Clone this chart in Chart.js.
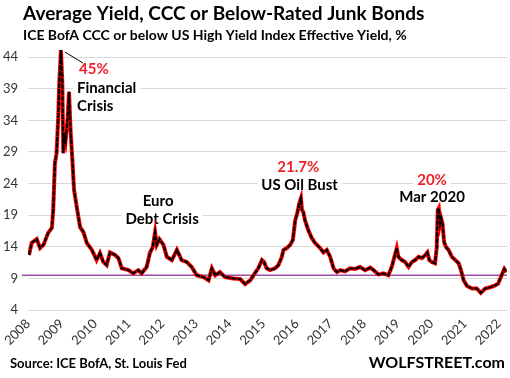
<!DOCTYPE html>
<html>
<head>
<meta charset="utf-8">
<script src="https://cdn.jsdelivr.net/npm/chart.js@4.4.0/dist/chart.umd.min.js"></script>
<style>
  html, body { margin: 0; padding: 0; background: #fff; }
  #wrap { width: 510px; height: 378px; position: relative; }
</style>
</head>
<body>
<div id="wrap"><canvas id="chart" width="510" height="378"></canvas></div>
<script>
// ICE BofA CCC & lower effective yield (decimal year, %)
const years = [
  2008.03, 2008.11, 2008.26, 2008.36, 2008.46, 2008.60, 2008.71, 2008.75, 2008.80, 2008.85,
  2008.90, 2008.93, 2008.98, 2009.02, 2009.05, 2009.08, 2009.12, 2009.18, 2009.22, 2009.27,
  2009.32, 2009.37, 2009.45, 2009.55, 2009.65, 2009.75, 2009.90, 2010.04, 2010.14, 2010.24,
  2010.34, 2010.44, 2010.59, 2010.69, 2010.79, 2010.99, 2011.13, 2011.28, 2011.38, 2011.53,
  2011.63, 2011.71, 2011.78, 2011.83, 2011.91, 2012.03, 2012.13, 2012.28, 2012.43, 2012.57,
  2012.72, 2012.87, 2013.02, 2013.22, 2013.37, 2013.47, 2013.57, 2013.71, 2013.86, 2014.11,
  2014.31, 2014.46, 2014.61, 2014.76, 2014.85, 2014.96, 2015.02, 2015.10, 2015.20, 2015.35,
  2015.45, 2015.55, 2015.60, 2015.70, 2015.80, 2015.88, 2015.95, 2016.01, 2016.07, 2016.12,
  2016.15, 2016.19, 2016.24, 2016.34, 2016.44, 2016.54, 2016.69, 2016.79, 2016.89, 2016.99,
  2017.09, 2017.19, 2017.29, 2017.43, 2017.58, 2017.73, 2017.88, 2018.03, 2018.18, 2018.28,
  2018.43, 2018.57, 2018.72, 2018.82, 2018.89, 2018.97, 2019.02, 2019.12, 2019.22, 2019.32,
  2019.42, 2019.52, 2019.62, 2019.72, 2019.82, 2019.88, 2019.94, 2020.01, 2020.11, 2020.16,
  2020.19, 2020.22, 2020.26, 2020.29, 2020.33, 2020.38, 2020.44, 2020.51, 2020.61, 2020.71,
  2020.81, 2020.88, 2020.96, 2021.06, 2021.21, 2021.35, 2021.47, 2021.60, 2021.75, 2021.90,
  2021.99, 2022.09, 2022.17, 2022.23
];
const yields = [
  12.7, 14.6, 15.2, 13.8, 14.3, 16.2, 17.0, 19.8, 27.2, 28.8,
  34.5, 39.9, 45.1, 40.0, 28.8, 32.0, 30.9, 34.5, 38.5, 32.0,
  27.7, 23.0, 20.3, 17.1, 16.3, 14.6, 13.5, 11.9, 13.0, 11.6,
  11.1, 13.1, 12.7, 12.2, 10.6, 10.3, 9.8, 10.3, 9.8, 10.8,
  13.1, 13.9, 16.3, 14.3, 15.2, 14.3, 12.4, 11.9, 13.5, 11.9,
  11.6, 10.8, 9.5, 9.2, 8.7, 10.6, 9.5, 10.0, 9.2, 9.0,
  8.9, 8.1, 8.7, 9.9, 10.6, 11.9, 11.6, 10.6, 10.3, 10.6,
  11.1, 12.4, 13.5, 13.8, 14.3, 15.1, 18.2, 19.3, 20.9, 21.7,
  19.8, 19.5, 18.2, 16.6, 15.4, 14.6, 13.8, 13.1, 13.5, 12.4,
  10.6, 10.0, 10.3, 10.1, 10.6, 10.5, 10.8, 10.3, 10.7, 10.3,
  9.6, 9.8, 9.5, 10.8, 12.2, 13.8, 12.4, 11.9, 11.6, 10.8,
  11.6, 11.9, 12.4, 12.2, 12.7, 13.1, 11.9, 11.6, 11.4, 13.9,
  19.8, 20.1, 17.7, 18.5, 17.7, 14.7, 13.9, 13.5, 12.4, 11.9,
  11.4, 10.3, 8.7, 7.8, 7.4, 7.4, 6.7, 7.4, 7.6, 7.9,
  8.2, 9.5, 10.5, 10.0
];
const yTicks = [4, 9, 14, 19, 24, 29, 34, 39, 44];
const xTicks = [2008, 2009, 2010, 2011, 2012, 2013, 2014, 2015, 2016, 2017, 2018, 2019, 2020, 2021, 2022];
const currentLevel = 9.5;

// annotation text, placed in data units
const notes = [
  { text: '45%', x: 2009.96, y: 42.15, color: '#f0202a', align: 'center' },
  { text: 'Financial', x: 2009.46, y: 39.1, color: '#000', align: 'left' },
  { text: 'Crisis', x: 2009.46, y: 36.25, color: '#000', align: 'left' },
  { text: 'Euro', x: 2011.87, y: 21.2, color: '#000', align: 'center' },
  { text: 'Debt Crisis', x: 2011.99, y: 18.4, color: '#000', align: 'center' },
  { text: '21.7%', x: 2016.04, y: 26.6, color: '#f0202a', align: 'center' },
  { text: 'US Oil Bust', x: 2016.08, y: 23.75, color: '#000', align: 'center' },
  { text: '20%', x: 2020.02, y: 24.5, color: '#f0202a', align: 'center' },
  { text: 'Mar 2020', x: 2020.02, y: 21.85, color: '#000', align: 'center' }
];

const FONT = 'Lato, "Open Sans", sans-serif';
const points = years.map((x, i) => ({ x: x, y: yields[i] }));

// white label boxes + text, drawn under the line but over the grid
const notesPlugin = {
  id: 'notes',
  beforeDatasetsDraw(chart) {
    const { ctx, scales } = chart;
    ctx.save();
    ctx.font = 'bold 15px ' + FONT;
    ctx.textBaseline = 'middle';
    notes.forEach((n) => {
      const px = scales.x.getPixelForValue(n.x);
      const py = scales.y.getPixelForValue(n.y);
      const w = ctx.measureText(n.text).width;
      const left = n.align === 'center' ? px - w / 2 : px;
      ctx.fillStyle = '#fff';
      ctx.fillRect(left - 4, py - 9, w + 8, 18);
      ctx.fillStyle = n.color;
      ctx.textAlign = n.align;
      ctx.fillText(n.text, px, py);
    });
    // leader line from the 45% peak to its label
    ctx.strokeStyle = '#000';
    ctx.lineWidth = 1;
    ctx.beginPath();
    ctx.moveTo(scales.x.getPixelForValue(2009.10), scales.y.getPixelForValue(44.8));
    ctx.lineTo(scales.x.getPixelForValue(2009.64), scales.y.getPixelForValue(43.05));
    ctx.stroke();
    ctx.restore();
  }
};

// title, subtitle and footer
const textPlugin = {
  id: 'texts',
  afterDraw(chart) {
    const ctx = chart.ctx;
    ctx.save();
    ctx.fillStyle = '#000';
    ctx.textBaseline = 'middle';
    ctx.textAlign = 'left';
    ctx.font = 'bold 19px ' + FONT;
    ctx.fillText('Average Yield, CCC or Below-Rated Junk Bonds', 23, 14);
    ctx.font = 'bold 14px ' + FONT;
    ctx.fillText('ICE BofA CCC or below US High Yield Index Effective Yield, %', 23, 35);
    ctx.font = 'bold 13px ' + FONT;
    ctx.fillText('Source: ICE BofA, St. Louis Fed', 10, 364);
    ctx.textAlign = 'right';
    ctx.font = 'bold 16px ' + FONT;
    ctx.fillText('WOLFSTREET.com', 505, 363);
    ctx.restore();
  }
};

new Chart(document.getElementById('chart'), {
  type: 'line',
  data: {
    datasets: [
      {
        // current level marker
        data: [{ x: 2007.82, y: currentLevel }, { x: 2022.25, y: currentLevel }],
        borderColor: '#9b4ea6',
        borderWidth: 1.5,
        pointRadius: 0,
        clip: false,
        order: 3
      },
      {
        data: points,
        borderColor: '#ff0000',
        borderWidth: 4,
        pointRadius: 0,
        tension: 0,
        order: 2
      },
      {
        data: points,
        borderColor: '#000',
        borderWidth: 2.2,
        borderDash: [5, 1],
        pointRadius: 0,
        tension: 0,
        order: 1
      }
    ]
  },
  options: {
    responsive: false,
    animation: false,
    devicePixelRatio: 1,
    layout: { padding: { top: 47, right: 3, bottom: 0, left: 0 } },
    plugins: {
      legend: { display: false },
      tooltip: { enabled: false }
    },
    scales: {
      x: {
        type: 'linear',
        min: 2008,
        max: 2022.25,
        afterBuildTicks: (s) => { s.ticks = xTicks.map((v) => ({ value: v })); },
        afterFit: (s) => { s.height = 68; s.paddingLeft = 0; s.paddingRight = 0; },
        grid: { display: false, drawTicks: false },
        border: { display: false },
        ticks: {
          autoSkip: false,
          minRotation: 45,
          maxRotation: 45,
          padding: 6,
          color: '#333',
          font: { family: FONT, size: 13 },
          callback: (v) => String(v)
        }
      },
      y: {
        min: 4,
        max: 45.6,
        afterBuildTicks: (s) => { s.ticks = yTicks.map((v) => ({ value: v })); },
        afterFit: (s) => { s.width = 28; },
        grid: { color: '#d9d9d9', drawTicks: false },
        border: { display: false },
        ticks: {
          padding: 10,
          color: '#333',
          font: { family: FONT, size: 13 }
        }
      }
    }
  },
  plugins: [notesPlugin, textPlugin]
});
</script>
</body>
</html>
